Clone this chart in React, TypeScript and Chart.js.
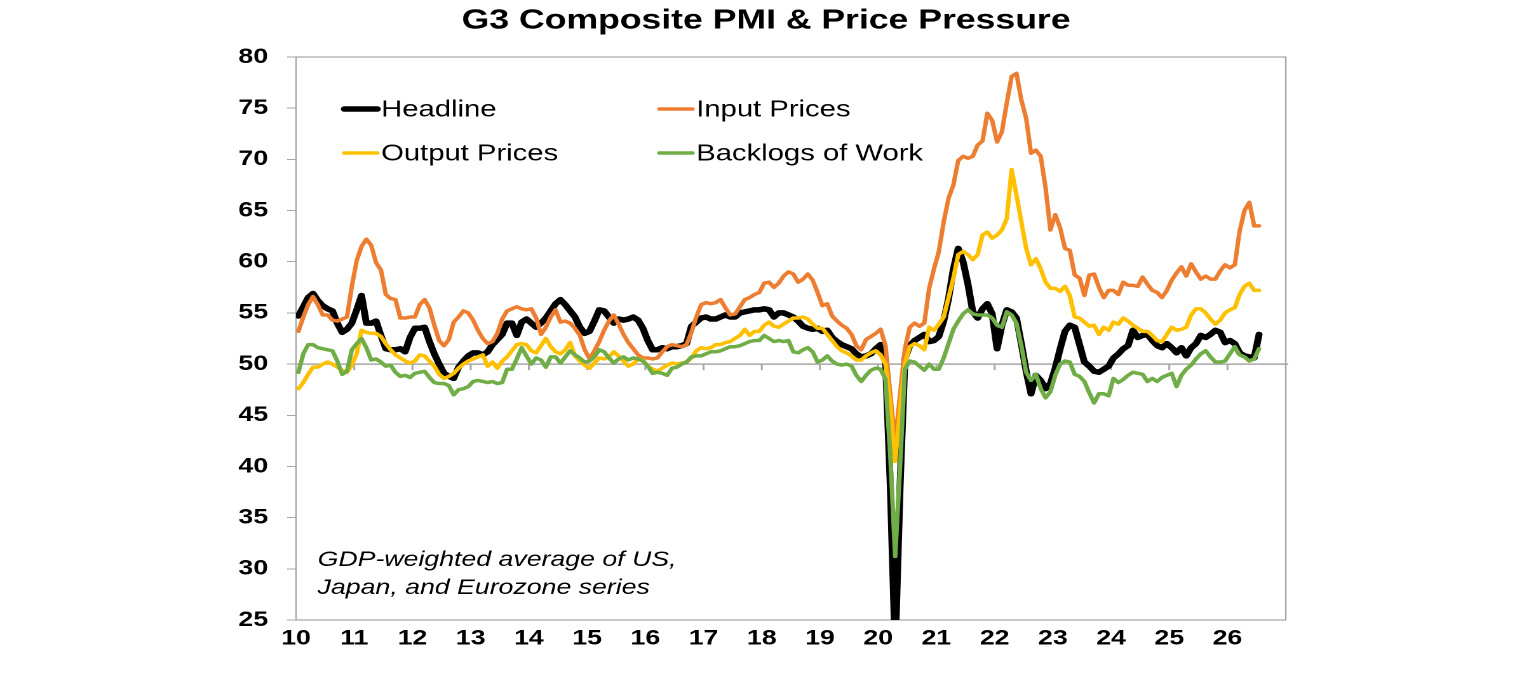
import { useEffect, useRef } from 'react';
import { Chart, registerables } from 'chart.js';

Chart.register(...registerables);

// monthly series, Jan 2010 .. Jul 2026
const START_YEAR = 2010;

const headline = [
  54.7, 55.6, 56.5, 56.9, 56.2, 55.7, 55.4, 55.2, 54.0, 53.1, 53.4, 54.0,
  55.3, 56.7, 54.0, 54.0, 54.2, 52.8, 51.5, 51.4, 51.4, 51.5, 51.2, 52.6,
  53.5, 53.5, 53.6, 52.2, 51.0, 50.0, 49.1, 48.8, 48.6, 49.7, 50.3, 50.8,
  51.1, 51.1, 50.9, 51.2, 51.9, 52.4, 52.9, 54.0, 54.0, 52.8, 54.1, 54.4,
  54.0, 53.6, 54.0, 54.5, 55.2, 55.9, 56.3, 55.8, 55.2, 54.6, 53.6, 53.0,
  53.2, 54.2, 55.3, 55.2, 54.6, 54.0, 54.4, 54.3, 54.4, 54.6, 54.3, 53.5,
  52.3, 51.4, 51.4, 51.6, 51.5, 51.7, 51.7, 51.8, 52.0, 53.7, 54.1, 54.5,
  54.6, 54.4, 54.4, 54.6, 54.8, 54.6, 54.6, 55.0, 55.1, 55.2, 55.3, 55.3,
  55.4, 55.3, 54.6, 55.0, 55.0, 54.8, 54.6, 54.2, 53.7, 53.5, 53.4, 53.5,
  53.2, 53.3, 52.6, 52.2, 51.9, 51.7, 51.5, 51.0, 50.7, 50.8, 51.0, 51.5,
  51.9, 50.5, 38.0, 22.0, 38.0, 50.5, 51.8, 52.3, 52.6, 52.9, 52.2, 52.3,
  52.7, 54.2, 56.4, 59.3, 61.3, 60.0, 57.8, 55.1, 54.5, 55.4, 55.9, 54.9,
  51.5, 53.8, 55.3, 55.1, 54.5, 52.0, 49.3, 47.1, 48.9, 48.4, 47.6, 48.1,
  49.6, 51.5, 53.2, 53.8, 53.6, 51.9, 50.2, 49.8, 49.3, 49.2, 49.5, 49.8,
  50.6, 51.0, 51.5, 51.8, 53.3, 52.6, 52.8, 52.9, 52.3, 51.8, 51.6, 52.0,
  51.6, 51.1, 51.6, 50.8, 51.6, 52.0, 52.8, 52.6, 52.9, 53.3, 53.1, 52.1,
  52.3, 52.0, 51.1, 50.8, 50.7, 50.6, 52.9,
];

const inputPrices = [
  53.2, 54.6, 55.8, 56.6, 55.8, 54.8, 54.8, 54.3, 54.2, 54.4, 54.6, 57.6,
  60.1, 61.5, 62.2, 61.6, 59.9, 59.2, 56.8, 56.4, 56.3, 54.5, 54.5, 54.6,
  54.6, 55.8, 56.3, 55.5, 53.8, 52.3, 51.8, 52.4, 54.1, 54.6, 55.2, 55.0,
  54.3, 53.3, 52.5, 52.0, 52.2, 53.0, 54.4, 55.2, 55.4, 55.6, 55.4, 55.3,
  55.4, 54.5, 52.9, 53.6, 54.6, 55.3, 54.1, 54.2, 54.0, 53.5, 52.8, 51.4,
  50.5, 51.3, 52.2, 53.3, 54.2, 54.8, 53.9, 52.9, 52.1, 51.5, 50.9, 50.6,
  50.6, 50.5, 50.6, 51.2, 51.7, 51.9, 51.8, 51.7, 51.9, 53.1, 54.6, 55.8,
  56.0, 55.9, 56.0, 56.3, 55.5, 54.8, 54.9, 55.6, 56.3, 56.5, 56.8, 57.0,
  57.9, 58.0, 57.5, 57.9, 58.6, 59.0, 58.8, 58.0, 58.3, 58.8, 58.2, 57.0,
  55.7, 55.9, 54.7, 54.2, 53.8, 53.5, 52.9, 51.8, 51.4, 52.4, 52.7, 53.0,
  53.4, 51.8, 47.0, 42.4, 47.0, 51.5, 53.6, 54.0, 53.7, 54.0, 57.4, 59.3,
  61.0, 63.9, 66.2, 67.5, 69.9, 70.3, 70.1, 70.3, 71.4, 71.8, 74.5, 73.8,
  71.7, 72.7, 75.5, 78.1, 78.4, 75.8, 74.0, 70.6, 70.9, 70.3, 67.2, 63.1,
  64.6, 63.3, 61.3, 61.1, 58.7, 58.4, 56.7, 58.7, 58.8, 57.5, 56.5, 57.2,
  57.2, 56.8, 58.0, 57.7, 57.7, 57.6, 58.5, 57.8, 57.2, 57.0, 56.5, 57.2,
  58.2, 58.9, 59.5, 58.6, 59.8, 59.0, 58.3, 58.6, 58.3, 58.3, 59.1, 59.7,
  59.4, 59.7, 63.0, 65.0, 65.8, 63.5, 63.5,
];

const outputPrices = [
  47.6, 48.2, 49.0, 49.7, 49.7, 50.0, 50.2, 50.0, 49.7, 49.4, 49.2, 49.9,
  51.0, 53.3, 53.1, 53.0, 53.0, 52.7, 52.0, 51.4, 50.9, 50.6, 50.3, 50.1,
  50.3, 50.9, 50.8, 50.3, 49.8, 49.0, 48.6, 48.8, 49.1, 49.6, 50.0, 50.3,
  50.5, 50.7, 50.9, 49.8, 50.2, 49.6, 50.3, 50.7, 51.3, 51.9, 52.0, 51.9,
  51.3, 51.1, 51.8, 52.5, 51.7, 51.2, 51.0, 51.4, 52.1, 50.8, 50.3, 49.9,
  49.6, 50.1, 50.6, 50.5, 50.7, 51.2, 50.8, 50.3, 49.8, 50.0, 50.5, 50.4,
  49.8, 49.5, 49.3, 49.6, 49.9, 50.1, 50.0, 50.1, 50.2, 50.6, 51.3, 51.6,
  51.5, 51.6, 51.9, 51.9, 52.1, 52.2, 52.5, 52.8, 53.4, 52.8, 53.2, 53.2,
  53.8, 54.1, 53.7, 53.6, 53.9, 54.2, 54.5, 54.5, 54.6, 54.4, 53.9, 53.5,
  53.5, 52.9, 52.3, 51.7, 51.3, 51.1, 50.8, 50.4, 50.4, 50.8, 51.1, 51.3,
  50.9, 50.0, 46.0, 40.5, 45.5, 50.0, 51.7, 52.0, 51.8, 51.4, 53.6, 53.3,
  53.9, 54.6, 56.5, 58.4, 60.7, 61.0, 60.7, 60.2, 60.7, 62.6, 62.9, 62.3,
  62.6, 63.1, 64.2, 69.0, 66.5, 63.9, 61.3, 59.7, 60.3, 59.3, 58.0, 57.4,
  57.4, 57.1, 57.6, 56.7, 54.6, 54.5, 54.1, 53.7, 53.8, 52.9, 53.6, 53.3,
  54.1, 53.9, 54.5, 54.2, 53.8, 53.5, 53.2, 53.2, 52.8, 52.3, 52.2, 52.9,
  53.6, 53.3, 53.4, 53.6, 54.8, 55.4, 55.4, 55.0, 54.4, 53.9, 54.3, 55.0,
  55.3, 55.5, 56.8, 57.6, 57.9, 57.2, 57.2,
];

const backlogs = [
  49.2, 51.0, 51.9, 51.9, 51.6, 51.5, 51.4, 51.3, 50.3, 49.0, 49.3, 51.4,
  52.0, 52.5, 51.6, 50.4, 50.5, 50.2, 49.8, 49.9, 49.2, 48.8, 48.9, 48.7,
  49.1, 49.2, 49.3, 48.7, 48.2, 48.1, 48.1, 47.9, 47.0, 47.5, 47.6, 47.8,
  48.3, 48.4, 48.3, 48.2, 48.3, 48.1, 48.2, 49.5, 49.5, 50.5, 51.6, 50.8,
  50.0, 50.6, 50.4, 49.7, 50.7, 50.7, 50.1, 50.7, 51.3, 50.9, 50.6, 50.2,
  50.3, 50.7, 51.4, 51.2, 50.6, 50.1, 50.5, 50.7, 50.4, 50.6, 50.5, 50.3,
  49.8, 49.1, 49.2, 49.1, 48.9, 49.6, 49.7, 50.0, 50.2, 50.7, 50.8, 50.8,
  51.0, 51.2, 51.2, 51.3, 51.5, 51.7, 51.7, 51.8, 52.0, 52.2, 52.3, 52.3,
  52.8, 52.5, 52.2, 52.3, 52.2, 52.3, 51.2, 51.1, 51.4, 51.6, 51.2, 50.2,
  50.4, 50.8, 50.3, 50.0, 49.9, 50.0, 49.8, 48.9, 48.3, 48.9, 49.4, 49.6,
  49.5, 48.5, 41.0, 31.2, 40.0, 49.5, 50.3, 50.2, 49.8, 49.4, 50.0, 49.5,
  49.5, 50.6, 52.0, 53.4, 54.2, 54.9, 55.3, 54.9, 54.8, 54.8, 54.8, 54.5,
  53.8, 53.6, 55.1, 54.8, 54.0, 51.8, 49.2, 48.4, 49.0, 47.6, 46.7, 47.3,
  48.9, 50.0, 50.3, 50.2, 49.0, 48.8, 48.3, 47.2, 46.2, 47.1, 47.1, 46.9,
  48.6, 48.2, 48.5, 48.9, 49.2, 49.1, 49.0, 48.3, 48.6, 48.3, 48.7, 48.9,
  49.1, 47.8, 48.9, 49.5, 49.9, 50.5, 51.0, 51.3, 50.7, 50.2, 50.2, 50.3,
  51.0, 51.7, 50.9, 50.7, 50.3, 50.5, 51.5,
];

const Y_MIN = 25;
const Y_MAX = 80;
const Y_STEP = 5;
const X_MIN = 2010;
const X_MAX = 2027;
const AXIS_CROSS = 50;

const TITLE = 'G3 Composite PMI & Price Pressure';
const NOTE = ['GDP-weighted average of US,', 'Japan, and Eurozone series'];

// the reference is stretched sideways, so draw narrow and scale the box
const CANVAS_W = 1209;
const CANVAS_H = 680;
const STRETCH = 1536 / CANVAS_W;

const FONT = "'Liberation Sans', Arial, Helvetica, sans-serif";
const GRAY = '#a6a6a6';

const toPoints = (vals: number[]) =>
  vals.map((v, i) => ({ x: START_YEAR + (i + 0.5) / 12, y: v }));

// legend slots, [x of line start, y of row]
const LEGEND_SLOTS: [number, number][] = [
  [271, 109],
  [519, 109],
  [271, 153],
  [519, 153],
];

const framePlugin = {
  id: 'frame',
  beforeDatasetsDraw(chart: any) {
    const { ctx, chartArea: a, scales } = chart;
    const x = scales.x;
    const y = scales.y;
    ctx.save();
    ctx.strokeStyle = GRAY;
    ctx.lineWidth = 1.2;
    ctx.strokeRect(a.left, a.top, a.right - a.left, a.bottom - a.top);
    const y50 = y.getPixelForValue(AXIS_CROSS);
    ctx.lineWidth = 1.5;
    ctx.beginPath();
    ctx.moveTo(a.left, y50);
    ctx.lineTo(a.right + 2, y50);
    for (let yr = X_MIN + 1; yr < X_MAX; yr++) {
      const px = x.getPixelForValue(yr);
      ctx.moveTo(px, y50);
      ctx.lineTo(px, y50 + 6);
    }
    ctx.stroke();
    ctx.restore();
  },
};

const textPlugin = {
  id: 'texts',
  afterDraw(chart: any) {
    const { ctx, chartArea: a } = chart;
    ctx.save();
    // title
    ctx.fillStyle = '#000';
    ctx.font = `bold 28px ${FONT}`;
    ctx.textAlign = 'center';
    ctx.textBaseline = 'middle';
    ctx.fillText(TITLE, 603, 21);

    // legend
    ctx.textAlign = 'left';
    ctx.font = `23px ${FONT}`;
    chart.data.datasets.forEach((ds: any, i: number) => {
      const [lx, ly] = LEGEND_SLOTS[i];
      ctx.strokeStyle = ds.borderColor;
      ctx.lineWidth = ds.borderWidth;
      ctx.lineCap = 'round';
      ctx.beginPath();
      ctx.moveTo(lx, ly);
      ctx.lineTo(lx + 26, ly);
      ctx.stroke();
      ctx.fillStyle = '#000';
      ctx.fillText(ds.label, lx + 29, ly + 1);
    });

    // note
    ctx.font = `italic 21px ${FONT}`;
    ctx.textBaseline = 'alphabetic';
    ctx.fillText(NOTE[0], a.left + 17, 566);
    ctx.fillText(NOTE[1], a.left + 17, 594);
    ctx.restore();
  },
};

export default function App() {
  const canvasRef = useRef<HTMLCanvasElement>(null);

  useEffect(() => {
    if (!canvasRef.current) return;
    const line = (label: string, vals: number[], color: string, width: number, order: number) => ({
      label,
      data: toPoints(vals),
      borderColor: color,
      backgroundColor: color,
      borderWidth: width,
      pointRadius: 0,
      tension: 0,
      borderJoinStyle: 'round' as const,
      borderCapStyle: 'round' as const,
      clip: 0,
      order,
    });

    const chart = new Chart(canvasRef.current, {
      type: 'line',
      data: {
        datasets: [
          line('Headline', headline, '#000000', 5.5, 4),
          line('Input Prices', inputPrices, '#ED7D31', 3.5, 3),
          line('Output Prices', outputPrices, '#FFC000', 3.5, 2),
          line('Backlogs of Work', backlogs, '#70AD47', 3.5, 1),
        ],
      },
      options: {
        responsive: true,
        maintainAspectRatio: false,
        animation: false,
        devicePixelRatio: 2,
        events: [],
        layout: { padding: { top: 57, right: CANVAS_W - 1012, bottom: 0, left: 0 } },
        plugins: {
          legend: { display: false },
          title: { display: false },
          tooltip: { enabled: false },
        },
        scales: {
          x: {
            type: 'linear',
            min: X_MIN,
            max: X_MAX,
            afterFit: (s: any) => { s.height = CANVAS_H - 620; },
            grid: { display: false, drawTicks: false },
            border: { display: true, color: GRAY },
            ticks: {
              stepSize: 1,
              autoSkip: false,
              maxRotation: 0,
              padding: 6,
              color: '#000',
              font: { family: FONT, size: 21, weight: 'bold' },
              callback: (v: any) => {
                const yr = Math.round(Number(v));
                return yr >= X_MAX ? '' : String(yr % 100).padStart(2, '0');
              },
            },
          },
          y: {
            min: Y_MIN,
            max: Y_MAX,
            afterFit: (s: any) => { s.width = 233; },
            grid: { drawOnChartArea: false, drawTicks: true, tickLength: 7, tickColor: GRAY },
            border: { display: true, color: GRAY },
            ticks: {
              stepSize: Y_STEP,
              padding: 15,
              color: '#000',
              font: { family: FONT, size: 21, weight: 'bold' },
            },
          },
        },
      },
      plugins: [framePlugin, textPlugin],
    });

    return () => { chart.destroy(); };
  }, []);

  return (
    <div style={{ position: 'fixed', left: 0, top: 0, width: 1536, height: CANVAS_H, background: '#fff', overflow: 'hidden' }}>
      <div style={{ width: CANVAS_W, height: CANVAS_H, transform: `scaleX(${STRETCH})`, transformOrigin: '0 0' }}>
        <canvas ref={canvasRef} />
      </div>
    </div>
  );
}
